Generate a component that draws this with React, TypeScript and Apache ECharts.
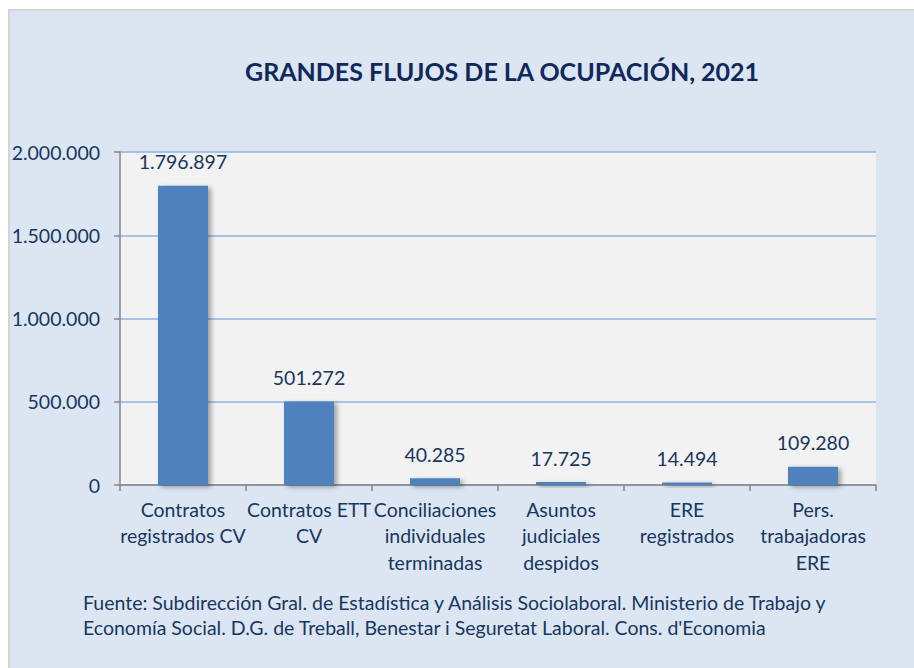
import React, { useEffect, useRef } from "react";
import * as echarts from "echarts";

const TITLE = "GRANDES FLUJOS DE LA OCUPACIÓN, 2021";
const categories = [
  "Contratos\nregistrados CV",
  "Contratos ETT\nCV",
  "Conciliaciones\nindividuales\nterminadas",
  "Asuntos\njudiciales\ndespidos",
  "ERE\nregistrados",
  "Pers.\ntrabajadoras\nERE",
];
const values = [1796897, 501272, 40285, 17725, 14494, 109280];
const yMin = 0;
const yMax = 2000000;
const yInterval = 500000;
const sourceLines = [
  "Fuente: Subdirección Gral. de Estadística y Análisis Sociolaboral. Ministerio de Trabajo y",
  "Economía Social. D.G. de Treball, Benestar i Seguretat Laboral. Cons. d'Economia",
];

const FONT = "Lato";
const TEXT = "#17375e";

function fmt(v: number): string {
  return String(Math.round(v)).replace(/\B(?=(\d{3})+(?!\d))/g, ".");
}

export default function App() {
  const ref = useRef<HTMLDivElement>(null);
  useEffect(() => {
    if (!ref.current) return;
    const chart = echarts.init(ref.current, undefined, { renderer: "svg" });
    chart.setOption({
      animation: false,
      backgroundColor: "#ffffff",
      textStyle: { fontFamily: FONT },
      graphic: [
        {
          type: "rect",
          z: -10,
          silent: true,
          shape: { x: 9, y: 10, width: 910, height: 665 },
          style: { fill: "#dce6f2", stroke: "#d4d4d4", lineWidth: 2 },
        },
        {
          type: "text",
          left: 245,
          top: 58,
          style: {
            text: TITLE,
            fontFamily: FONT,
            fontWeight: "bold",
            fontSize: 25,
            fill: "#10285a",
          },
        },
        {
          type: "text",
          left: 83,
          top: 590,
          style: {
            text: sourceLines.join("\n"),
            fontFamily: FONT,
            fontSize: 19.5,
            lineHeight: 25,
            fill: TEXT,
          },
        },
      ],
      grid: {
        left: 120,
        right: 38,
        top: 152,
        bottom: 183,
        show: true,
        backgroundColor: "#f2f2f2",
        borderWidth: 0,
      },
      xAxis: {
        type: "category",
        data: categories,
        axisLine: { lineStyle: { color: "#868686", width: 1.5 } },
        axisTick: { show: true, length: 6, lineStyle: { color: "#868686", width: 1.5 } },
        axisLabel: {
          interval: 0,
          color: TEXT,
          fontFamily: FONT,
          fontSize: 19.5,
          lineHeight: 26.5,
          margin: 11,
        },
      },
      yAxis: {
        type: "value",
        min: yMin,
        max: yMax,
        interval: yInterval,
        axisLine: { show: true, lineStyle: { color: "#868686", width: 1.5 } },
        axisTick: { show: true, length: 6, lineStyle: { color: "#868686", width: 1.5 } },
        splitLine: { lineStyle: { color: "#8eb4e3", width: 1.5 } },
        axisLabel: {
          color: TEXT,
          fontFamily: FONT,
          fontSize: 19.5,
          margin: 20,
          formatter: (v: number) => fmt(v),
        },
      },
      series: [
        {
          type: "bar",
          data: values,
          barWidth: 50,
          itemStyle: {
            color: "#4f81bd",
            shadowColor: "rgba(0,0,0,0.35)",
            shadowBlur: 5,
            shadowOffsetX: 3,
            shadowOffsetY: 2,
          },
          label: {
            show: true,
            position: "top",
            distance: 14,
            color: TEXT,
            fontFamily: FONT,
            fontSize: 19.5,
            formatter: (p: any) => fmt(p.value),
          },
        },
      ],
    });
    return () => chart.dispose();
  }, []);
  return (
    <div
      ref={ref}
      style={{ position: "fixed", left: 0, top: 0, width: 914, height: 668 }}
    />
  );
}
